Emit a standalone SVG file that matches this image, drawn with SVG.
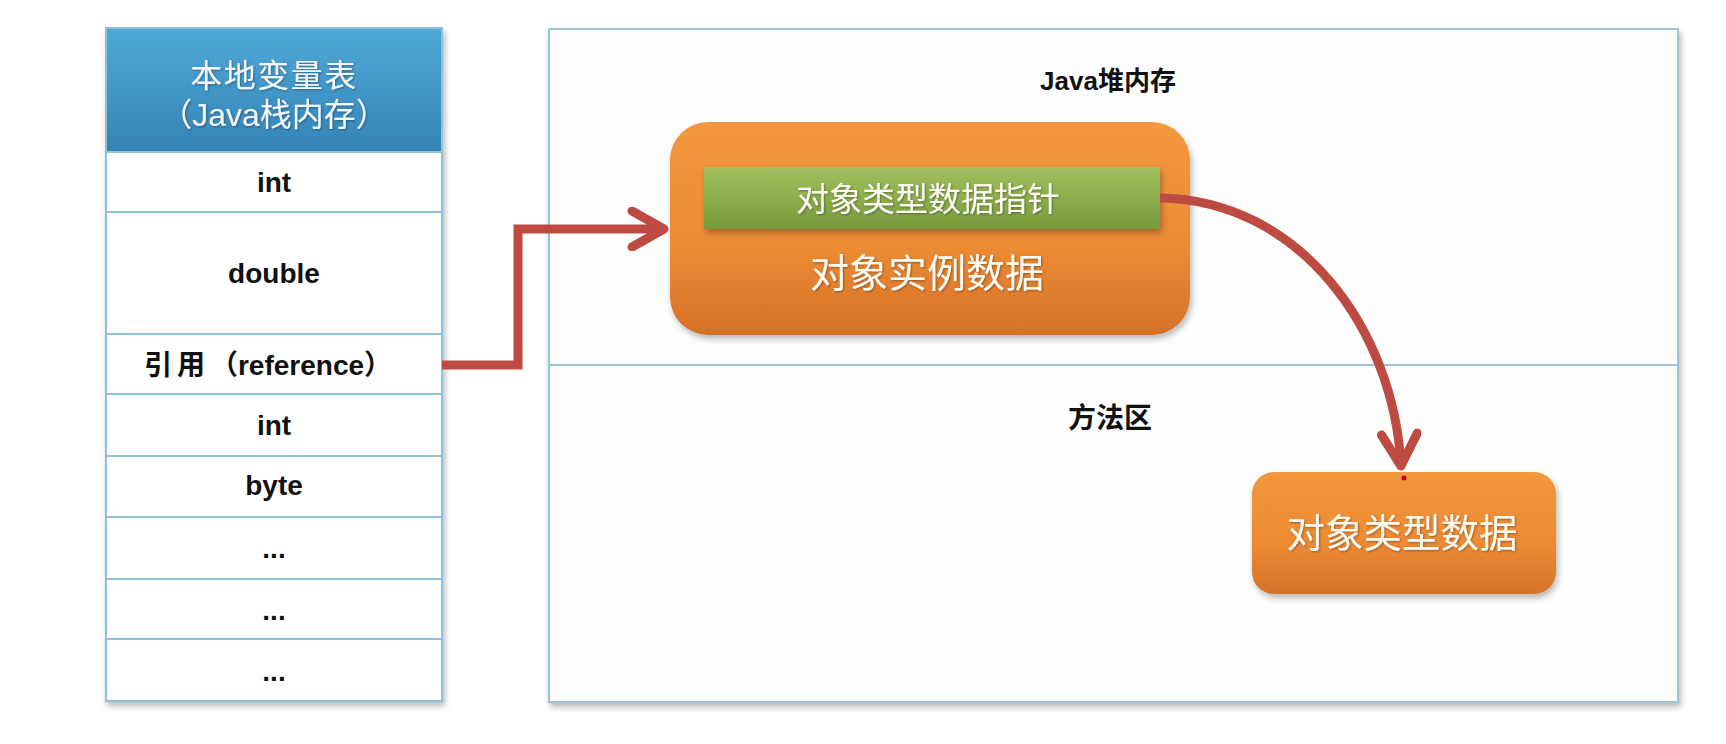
<svg xmlns="http://www.w3.org/2000/svg" width="1726" height="744" viewBox="0 0 1726 744">
<defs>
  <linearGradient id="hdr" x1="0" y1="0" x2="0" y2="1">
    <stop offset="0" stop-color="#4fa9d9"/>
    <stop offset="1" stop-color="#3583b6"/>
  </linearGradient>
  <linearGradient id="org" x1="0" y1="0" x2="0" y2="1">
    <stop offset="0" stop-color="#f3983f"/>
    <stop offset="0.6" stop-color="#ec8a33"/>
    <stop offset="1" stop-color="#d4712a"/>
  </linearGradient>
  <linearGradient id="grn" x1="0" y1="0" x2="0" y2="1">
    <stop offset="0" stop-color="#a2c15e"/>
    <stop offset="1" stop-color="#779a3c"/>
  </linearGradient>
  <filter id="sh" x="-10%" y="-10%" width="120%" height="125%">
    <feDropShadow dx="2" dy="4" stdDeviation="3" flood-color="#000" flood-opacity="0.28"/>
  </filter>
  <filter id="tsh" x="-10%" y="-20%" width="120%" height="140%">
    <feDropShadow dx="1" dy="1" stdDeviation="1" flood-color="#000" flood-opacity="0.35"/>
  </filter>
  <marker id="chev" viewBox="0 0 44 44" refX="38" refY="22" markerWidth="44" markerHeight="44" markerUnits="userSpaceOnUse" orient="auto">
    <path d="M6,4 L38,22 L6,40" fill="none" stroke="#bd4b42" stroke-width="9" stroke-linecap="round" stroke-linejoin="round"/>
  </marker>
  <style>
    .cell { fill: #ffffff; stroke: #8fc1db; stroke-width: 2; }
    .row { font-family: "Liberation Sans", "Noto Sans CJK SC", sans-serif; font-weight: bold; font-size: 28px; fill: #111; text-anchor: middle; }
    .hdrt { font-family: "Liberation Sans", "Noto Sans CJK SC", sans-serif; font-size: 32px; fill: #f4f8fb; text-anchor: middle; }
    .area { font-family: "Liberation Sans", "Noto Sans CJK SC", sans-serif; font-weight: bold; fill: #111; text-anchor: middle; }
    .wt { font-family: "Noto Sans CJK SC", sans-serif; fill: #fbfbf4; text-anchor: middle; }
    .conn { fill: none; stroke: #bd4b42; stroke-width: 9; stroke-linejoin: miter; }
  </style>
</defs>
<rect x="0" y="0" width="1726" height="744" fill="#ffffff"/>

<g id="heap-area">
  <rect x="549" y="29" width="1129" height="673" fill="#fefefe" stroke="#9cc4d6" stroke-width="2" filter="url(#sh)"/>
  <line x1="549" y1="365" x2="1678" y2="365" stroke="#9cc4d6" stroke-width="2"/>
  <text class="area" x="1108" y="90" font-size="26">Java堆内存</text>
  <text class="area" x="1110" y="428" font-size="28">方法区</text>
</g>

<g id="local-var-table" filter="url(#sh)">
  <rect x="106" y="28" width="336" height="124" fill="url(#hdr)" stroke="#8fc1db" stroke-width="2"/>
  <rect class="cell" x="106" y="152" width="336" height="60"/>
  <rect class="cell" x="106" y="212" width="336" height="122"/>
  <rect class="cell" x="106" y="334" width="336" height="60"/>
  <rect class="cell" x="106" y="394" width="336" height="62"/>
  <rect class="cell" x="106" y="456" width="336" height="61"/>
  <rect class="cell" x="106" y="517" width="336" height="62"/>
  <rect class="cell" x="106" y="579" width="336" height="60"/>
  <rect class="cell" x="106" y="639" width="336" height="62"/>
</g>
<g id="table-texts">
  <text class="hdrt" x="274" y="87" font-size="33" letter-spacing="1.5" filter="url(#tsh)">本地变量表</text>
  <text class="hdrt" x="274" y="126" filter="url(#tsh)">（Java栈内存）</text>
  <text class="row" x="274" y="192">int</text>
  <text class="row" x="274" y="283">double</text>
  <text class="row" x="268" y="375"><tspan letter-spacing="5">引用</tspan>（reference）</text>
  <text class="row" x="274" y="435">int</text>
  <text class="row" x="274" y="495">byte</text>
  <text class="row" x="274" y="558">...</text>
  <text class="row" x="274" y="620">...</text>
  <text class="row" x="274" y="681">...</text>
</g>

<g id="object-instance">
  <rect x="670" y="122" width="520" height="213" rx="38" ry="38" fill="url(#org)" filter="url(#sh)"/>
  <text class="wt" x="927" y="287" font-size="39" filter="url(#tsh)">对象实例数据</text>
</g>

<g id="type-pointer">
  <rect x="704" y="167" width="456" height="62" fill="url(#grn)" filter="url(#sh)"/>
  <text class="wt" x="928" y="211" font-size="33" filter="url(#tsh)">对象类型数据指针</text>
</g>

<g id="type-data">
  <rect x="1252" y="472" width="304" height="122" rx="22" ry="22" fill="url(#org)" filter="url(#sh)"/>
  <text class="wt" x="1402" y="547" font-size="38.5" filter="url(#tsh)">对象类型数据</text>
  <circle cx="1404" cy="478" r="2.5" fill="#c00000"/>
</g>

<g id="connectors">
  <path class="conn" d="M442,365 H518 V229 H664" marker-end="url(#chev)"/>
  <path class="conn" d="M1160,198 C1300,200 1394,330 1401,466" marker-end="url(#chev)"/>
</g>
</svg>
